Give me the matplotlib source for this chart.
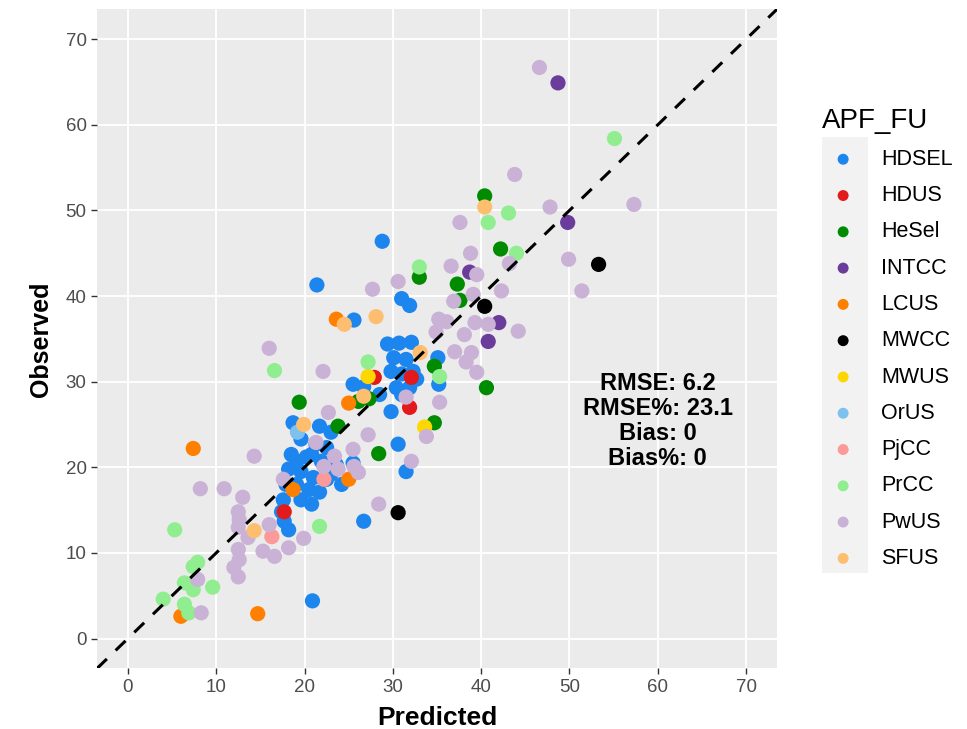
import matplotlib.pyplot as plt
from matplotlib.patches import Rectangle

plt.rcParams['font.family'] = ['Liberation Sans', 'DejaVu Sans']

# categories and colours (R "c25" style palette)
groups = ['HDSEL', 'HDUS', 'HeSel', 'INTCC', 'LCUS', 'MWCC', 'MWUS',
          'OrUS', 'PjCC', 'PrCC', 'PwUS', 'SFUS']
colors = ['#1C86EE', '#E31A1C', '#008B00', '#6A3D9A', '#FF7F00', '#000000',
          '#FFD700', '#7EC0EE', '#FB9A99', '#90EE90', '#CAB2D6', '#FDBF6F']

# predicted (x) / observed (y) per group
hdsel_x = [21.4, 28.8, 25.6, 31.0, 31.9, 25.5, 35.1, 35.2, 20.9, 26.7, 31.5, 30.6,
           29.4, 30.7, 32.1, 30.1, 31.5, 29.8, 31.0, 32.3, 30.4, 31.9, 31.0, 32.7,
           29.8, 28.5, 26.7, 18.7, 21.7, 23.0, 19.6, 21.3, 22.5, 18.5, 20.2, 21.9,
           23.6, 18.2, 19.6, 21.0, 22.5, 24.2, 19.1, 20.5, 21.7, 17.6, 19.6, 20.8,
           17.4, 18.2, 17.7, 25.5, 19.1, 17.9, 23.0, 20.8]
hdsel_y = [41.3, 46.4, 37.2, 39.7, 38.9, 29.7, 32.8, 29.7, 4.4, 13.7, 19.5, 22.7,
           34.4, 34.5, 34.6, 32.8, 32.6, 31.2, 30.9, 31.2, 29.3, 29.3, 28.5, 30.3,
           26.5, 28.5, 29.4, 25.2, 24.8, 24.1, 23.3, 22.7, 22.3, 21.5, 21.2, 20.7,
           20.3, 19.8, 19.5, 18.8, 18.6, 18.0, 18.0, 17.4, 17.1, 16.2, 16.2, 15.7,
           14.8, 12.7, 13.7, 20.5, 20.7, 18.0, 19.2, 21.5]

hdus_x = [17.7, 27.9, 32.1, 31.9]
hdus_y = [14.8, 30.5, 30.5, 27.0]

hesel_x = [40.4, 42.2, 33.0, 37.3, 37.6, 19.4, 27.3, 26.1, 34.7, 34.7, 28.4, 40.6, 23.8]
hesel_y = [51.7, 45.5, 42.2, 41.4, 39.5, 27.6, 28.0, 27.7, 31.8, 25.2, 21.6, 29.3, 24.8]

intcc_x = [48.7, 49.8, 38.7, 42.0, 40.8]
intcc_y = [64.9, 48.6, 42.8, 36.9, 34.7]

lcus_x = [7.4, 23.6, 6.0, 14.7, 25.0, 18.7, 25.0]
lcus_y = [22.2, 37.3, 2.6, 2.9, 27.5, 17.4, 18.6]

mwcc_x = [53.3, 40.4, 30.6]
mwcc_y = [43.7, 38.8, 14.7]

mwus_x = [33.6, 27.2]
mwus_y = [24.7, 30.6]

orus_x = [19.2]
orus_y = [24.1]

pjcc_x = [16.3, 22.2]
pjcc_y = [11.9, 18.6]

prcc_x = [55.1, 40.8, 43.1, 44.0, 33.0, 16.6, 21.7, 27.2, 35.3, 5.3, 7.9, 7.4,
          6.4, 7.4, 9.6, 4.0, 6.9, 6.4]
prcc_y = [58.4, 48.6, 49.7, 45.0, 43.4, 31.3, 13.1, 32.3, 30.6, 12.7, 8.9, 8.4,
          6.5, 5.7, 6.0, 4.6, 3.0, 4.0]

pwus_x = [46.6, 57.3, 47.8, 43.8, 37.6, 43.2, 49.9, 51.4, 42.3, 39.1, 38.8, 36.6,
          39.5, 30.6, 27.7, 36.9, 35.2, 36.1, 34.9, 39.3, 40.8, 38.1, 44.2, 37.0,
          38.9, 38.3, 39.5, 22.1, 16.0, 22.7, 27.2, 25.5, 23.4, 14.3, 25.6, 26.1,
          23.8, 22.2, 32.1, 28.4, 31.5, 33.8, 35.3, 21.3, 16.0, 13.0, 8.2, 10.9,
          12.5, 12.6, 12.5, 13.6, 12.5, 12.6, 12.0, 12.5, 7.9, 8.3, 15.3, 16.6,
          18.2, 19.9, 17.6]
pwus_y = [66.7, 50.7, 50.4, 54.2, 48.6, 43.8, 44.3, 40.6, 40.6, 40.2, 45.0, 43.5,
          42.5, 41.7, 40.8, 39.4, 37.3, 37.0, 35.8, 36.9, 36.7, 35.5, 35.9, 33.5,
          33.4, 32.3, 31.1, 31.2, 33.9, 26.4, 23.8, 22.1, 21.3, 21.3, 20.1, 19.4,
          19.8, 20.1, 20.7, 15.7, 28.2, 23.6, 27.6, 22.9, 13.3, 16.5, 17.5, 17.5,
          14.8, 13.9, 13.0, 11.8, 10.4, 9.2, 8.3, 7.2, 6.9, 3.0, 10.2, 9.6,
          10.6, 11.7, 18.6]

sfus_x = [40.4, 24.5, 28.1, 33.1, 14.3, 19.9, 26.7]
sfus_y = [50.4, 36.7, 37.6, 33.4, 12.6, 25.0, 28.3]

xs = [hdsel_x, hdus_x, hesel_x, intcc_x, lcus_x, mwcc_x, mwus_x, orus_x,
      pjcc_x, prcc_x, pwus_x, sfus_x]
ys = [hdsel_y, hdus_y, hesel_y, intcc_y, lcus_y, mwcc_y, mwus_y, orus_y,
      pjcc_y, prcc_y, pwus_y, sfus_y]

stats_text = 'RMSE: 6.2\nRMSE%: 23.1\nBias: 0\nBias%: 0'

fig = plt.figure(figsize=(9.67, 7.29), dpi=100)
ax = fig.add_axes([0.1003, 0.083, 0.7032, 0.9043])
ax.set_facecolor('#EBEBEB')

for g, c, x, y in zip(groups, colors, xs, ys):
    ax.scatter(x, y, s=120, color=c, edgecolors='none', label=g, zorder=3)

ax.axline((0, 0), slope=1, color='black', lw=2.2, ls=(0, (4.5, 4)), zorder=4)

ax.text(60, 25.4, stats_text, ha='center', va='center', fontsize=17,
        fontweight='bold', linespacing=1.1, zorder=5)

ax.set_xlim(-3.5, 73.5)
ax.set_ylim(-3.5, 73.5)
ax.set_xticks(range(0, 71, 10))
ax.set_yticks(range(0, 71, 10))
ax.grid(True, color='white', lw=1.3)
ax.set_axisbelow(True)
for sp in ax.spines.values():
    sp.set_visible(False)
ax.tick_params(colors='#333333', labelcolor='#4D4D4D', labelsize=13.5,
               length=4, width=1)

ax.set_xlabel('Predicted', fontsize=19, fontweight='bold', labelpad=7)
ax.set_ylabel('Observed', fontsize=18, fontweight='bold', labelpad=9)

# grey background behind the legend keys
fig.patches.append(Rectangle((822 / 967, 1 - 573 / 729), 46 / 967, 436 / 729,
                             transform=fig.transFigure, facecolor='#F2F2F2',
                             edgecolor='none', zorder=0))

leg = fig.legend(loc='upper left', bbox_to_anchor=(813 / 967, 1 - 99 / 729),
                 frameon=False, title='APF_FU', title_fontsize=20, fontsize=15.5,
                 markerscale=0.72, labelspacing=0.71, handletextpad=0.76,
                 borderaxespad=0)
leg._legend_box.align = 'left'

fig.savefig('out.png', dpi=100)
